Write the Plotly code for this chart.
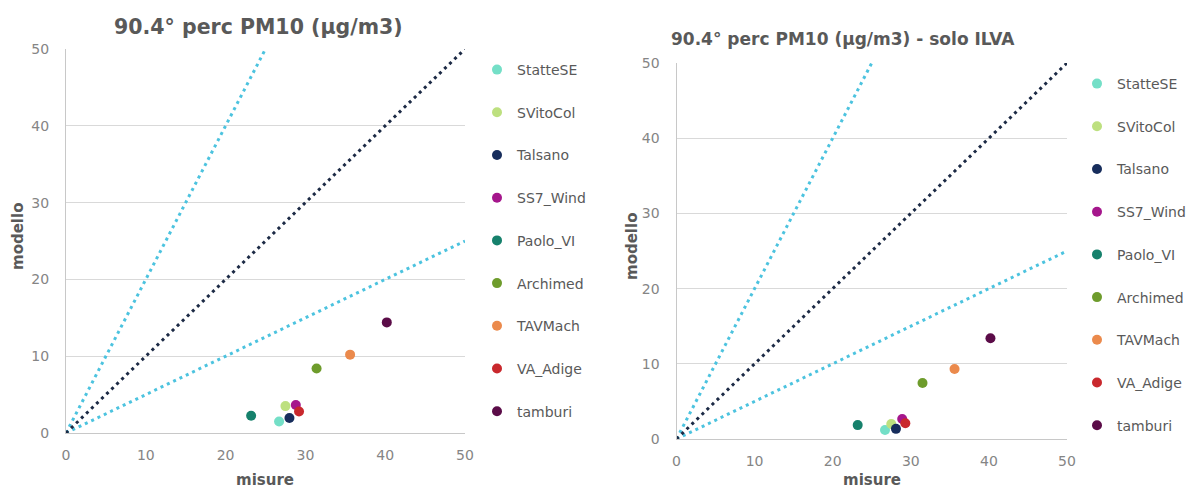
import plotly.graph_objects as go

# ---------------- data ----------------
stations = ["StatteSE", "SVitoCol", "Talsano", "SS7_Wind", "Paolo_VI",
            "Archimed", "TAVMach", "VA_Adige", "tamburi"]
colors = ["#74dfc7", "#bde07f", "#172d5c", "#a5168c", "#16816c",
          "#6e9c2c", "#eb8a4c", "#c9282d", "#5b0c48"]

misure = [26.7, 27.5, 28.0, 28.8, 23.2, 31.4, 35.6, 29.2, 40.2]
modello_all = [1.5, 3.5, 1.95, 3.65, 2.25, 8.4, 10.2, 2.8, 14.4]

misure_ilva = [26.7, 27.5, 28.1, 28.9, 23.2, 31.5, 35.6, 29.3, 40.2]
modello_ilva = [1.2, 2.0, 1.35, 2.65, 1.85, 7.45, 9.3, 2.1, 13.4]

# reference lines (1:1, factor-2 bands)
line_11_x, line_11_y = [0, 50], [0, 50]
line_21_x, line_21_y = [0, 25], [0, 50]
line_12_x, line_12_y = [0, 50], [0, 25]

tick_vals = [0, 10, 20, 30, 40, 50]
tick_text = ["0", "10", "20", "30", "40", "50"]

title_left = "90.4° perc PM10 (µg/m3)"
title_right = "90.4° perc PM10 (µg/m3) - solo ILVA"
xlab = "misure"
ylab = "modello"

# ---------------- styles ----------------
FONT = "DejaVu Sans"
TXT = "#595959"
TICK = "#858585"
GRID = "#d9d9d9"
LBLUE = "#4cc3df"
NAVY = "#1c2a45"

W, H = 1198, 490
OFF = 8  # page body margin


def px(x):
    return (x - OFF) / W


def py(y):
    return 1 - (y - OFF) / H


fig = go.Figure()


def add_lines(xa, ya):
    for lx, ly, col in [(line_21_x, line_21_y, LBLUE),
                        (line_12_x, line_12_y, LBLUE),
                        (line_11_x, line_11_y, NAVY)]:
        fig.add_trace(go.Scatter(x=lx, y=ly, mode="lines", xaxis=xa, yaxis=ya,
                                 line=dict(color=col, width=3, dash="3px,4px"),
                                 showlegend=False, hoverinfo="skip"))


def add_points(xa, ya, xs, ys, legend):
    for name, col, x, y in zip(stations, colors, xs, ys):
        fig.add_trace(go.Scatter(x=[x], y=[y], mode="markers", name=name,
                                 xaxis=xa, yaxis=ya, legend=legend,
                                 legendgroup=legend + name,
                                 marker=dict(color=col, size=10)))


add_lines("x", "y")
add_points("x", "y", misure, modello_all, "legend")
add_lines("x2", "y2")
add_points("x2", "y2", misure_ilva, modello_ilva, "legend2")


def ax(domain, anchor):
    return dict(domain=domain, anchor=anchor, range=[0, 50],
                tickvals=tick_vals, ticktext=tick_text, automargin=False,
                showgrid=True, gridcolor=GRID, gridwidth=1,
                showline=True, linecolor="#c8c8c8", linewidth=1,
                zeroline=False, ticks="", ticklen=0,
                tickfont=dict(family=FONT, size=14, color=TICK))


xa1 = ax([px(66), px(465)], "y"); xa1["showgrid"] = False
ya1 = ax([py(433), py(49)], "x")
xa2 = ax([px(676.5), px(1067)], "y2"); xa2["showgrid"] = False
ya2 = ax([py(439), py(63)], "x2")
for a in (ya1, ya2):
    a["ticklabelstandoff"] = 13
for a in (xa1, xa2):
    a["ticklabelstandoff"] = 9

legend_common = dict(font=dict(family=FONT, size=14, color=TXT),
                     bgcolor="rgba(0,0,0,0)", tracegroupgap=21.5,
                     itemwidth=30, xanchor="left", yanchor="top")


def ann(text, x, y, size, angle=0):
    return dict(text=text, x=px(x), y=py(y), xref="paper", yref="paper",
                xanchor="center", yanchor="middle", showarrow=False,
                textangle=angle, font=dict(family=FONT, size=size, color=TXT))


fig.update_layout(
    width=W, height=H,
    margin=dict(l=0, r=0, t=0, b=0, autoexpand=False),
    paper_bgcolor="white", plot_bgcolor="white",
    xaxis=xa1, yaxis=ya1, xaxis2=xa2, yaxis2=ya2,
    legend=dict(x=px(477), y=py(54), **legend_common),
    legend2=dict(x=px(1077), y=py(68), **legend_common),
    annotations=[
        ann("<b>" + title_left + "</b>", 258, 27, 20.5),
        ann("<b>" + title_right + "</b>", 843, 39, 17),
        ann("<b>" + xlab + "</b>", 265, 480, 15),
        ann("<b>" + xlab + "</b>", 872, 480, 15),
        ann("<b>" + ylab + "</b>", 18, 237, 15, -90),
        ann("<b>" + ylab + "</b>", 632, 247, 15, -90),
    ],
)

fig.write_html("out.html")
